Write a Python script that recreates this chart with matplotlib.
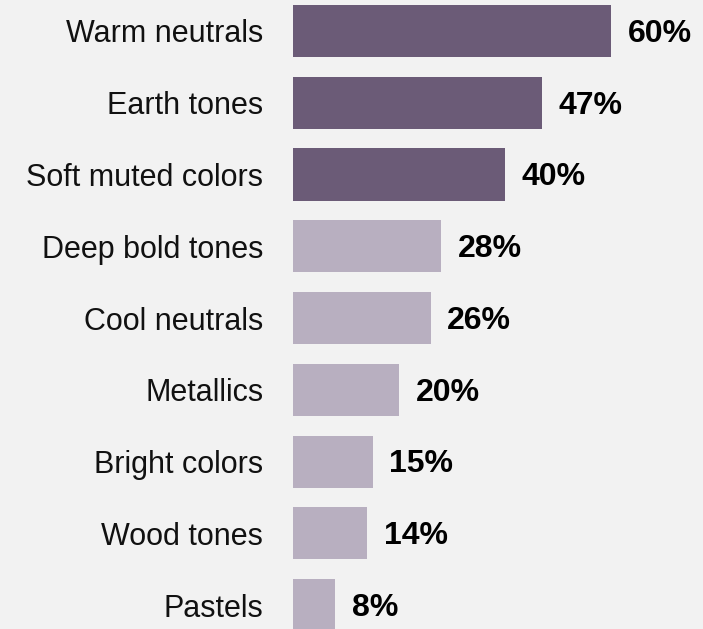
import matplotlib.pyplot as plt

categories = ['Warm neutrals', 'Earth tones', 'Soft muted colors', 'Deep bold tones',
              'Cool neutrals', 'Metallics', 'Bright colors', 'Wood tones', 'Pastels']
values = [60, 47, 40, 28, 26, 20, 15, 14, 8]
highlight = [True, True, True, False, False, False, False, False, False]

dark = '#6b5b77'
light = '#b8afc0'
bg = '#f2f2f2'

plt.rcParams['font.family'] = ['Liberation Sans', 'DejaVu Sans']

fig = plt.figure(figsize=(7.03, 6.29), dpi=100)
fig.patch.set_facecolor(bg)
ax = fig.add_axes([293 / 703, 0, 410 / 703, 1])
ax.set_facecolor(bg)

ypos = list(range(len(categories)))
colors = [dark if h else light for h in highlight]
ax.barh(ypos, values, height=0.725, color=colors)

# подписи значений справа от столбцов
for y, v in zip(ypos, values):
    ax.text(v + 3.1, y + 0.04, '{}%'.format(v), va='center', ha='left',
            fontsize=23, fontweight='bold', color='black')

ax.set_xlim(0, 410 / 5.3)
ax.set_ylim(8.334, -0.432)
ax.set_yticks(ypos)
ax.set_yticklabels(categories, fontsize=22, color='#111111')
ax.tick_params(axis='y', length=0, pad=21.5)
ax.set_xticks([])
for s in ax.spines.values():
    s.set_visible(False)

fig.savefig('out.png', dpi=100, facecolor=bg)
